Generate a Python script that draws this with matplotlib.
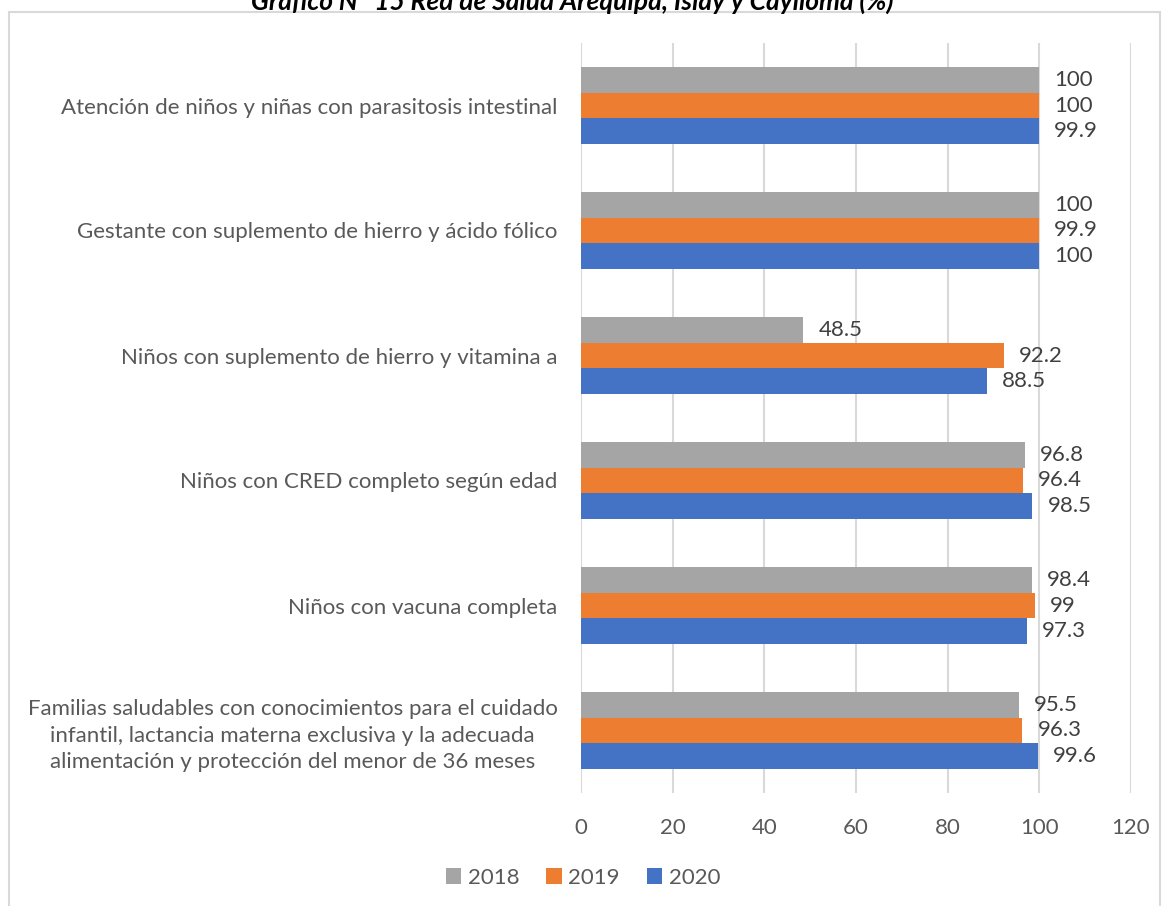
import numpy as np
import matplotlib.pyplot as plt
from matplotlib.patches import Rectangle

plt.rcParams['font.family'] = ['Lato', 'DejaVu Sans']

# Data (categories listed from bottom to top)
categories = [
    'Familias saludables con conocimientos para el cuidado\n'
    'infantil, lactancia materna exclusiva y la adecuada\n'
    'alimentación y protección del menor de 36 meses',
    'Niños con vacuna completa',
    'Niños con CRED completo según edad',
    'Niños con suplemento de hierro y vitamina a',
    'Gestante con suplemento de hierro y ácido fólico',
    'Atención de niños y niñas con parasitosis intestinal',
]
years = ['2018', '2019', '2020']
v2018 = [95.5, 98.4, 96.8, 48.5, 100, 100]
v2019 = [96.3, 99, 96.4, 92.2, 99.9, 100]
v2020 = [99.6, 97.3, 98.5, 88.5, 100, 99.9]
xticks = [0, 20, 40, 60, 80, 100, 120]

colors = ['#A5A5A5', '#ED7D31', '#4472C4']
text_color = '#595959'
fs = 16

fig = plt.figure(figsize=(11.67, 9.06), dpi=100)
W, H = 1167, 906
ax = fig.add_axes([581 / W, 1 - 793 / H, (1131 - 581) / W, (793 - 43) / H])

y = np.arange(len(categories))
h = 0.206
series = [v2018, v2019, v2020]
offsets = [h, 0, -h]
for vals, off, col, lab in zip(series, offsets, colors, years):
    bars = ax.barh(y + off, vals, height=h, color=col, label=lab, zorder=3)
    for b, v in zip(bars, vals):
        ax.annotate(f'{v:g}', (b.get_width(), b.get_y() + b.get_height() / 2),
                    xytext=(11, 0), textcoords='offset points',
                    va='center', ha='left', fontsize=fs, color='#404040')

ax.set_xlim(0, 120)
ax.set_ylim(-0.5, len(categories) - 0.5)
ax.set_xticks(xticks)
ax.set_yticks(y)
ax.set_yticklabels(categories, multialignment='center', linespacing=1.4)
ax.tick_params(axis='both', length=0, labelsize=fs, labelcolor=text_color)
ax.tick_params(axis='y', pad=17)
ax.tick_params(axis='x', pad=18)
ax.grid(axis='x', color='#D9D9D9', linewidth=1.5, zorder=0)
for s in ax.spines.values():
    s.set_visible(False)

ax.legend(loc='center', bbox_to_anchor=(583 / W, 1 - 878 / H),
          bbox_transform=fig.transFigure, ncol=3, frameon=False,
          fontsize=fs, labelcolor=text_color, handlelength=0.7,
          handleheight=0.7, handletextpad=0.3, columnspacing=1.2)

# Outer chart border
fig.patches.append(Rectangle((9 / W, -0.01), (1160 - 9) / W, 1.01 - 12 / H,
                             transform=fig.transFigure, fill=False,
                             edgecolor='#D9D9D9', linewidth=1.5))

# Title (cut at top edge, as in the original)
fig.text(572 / W, 1 - 10 / H,
         'Gráfico N° 15 Red de Salud Arequipa, Islay y Caylloma (%)',
         ha='center', va='baseline', fontsize=19, fontweight='bold',
         fontstyle='italic', color='black')

fig.savefig('out.png', dpi=100)
